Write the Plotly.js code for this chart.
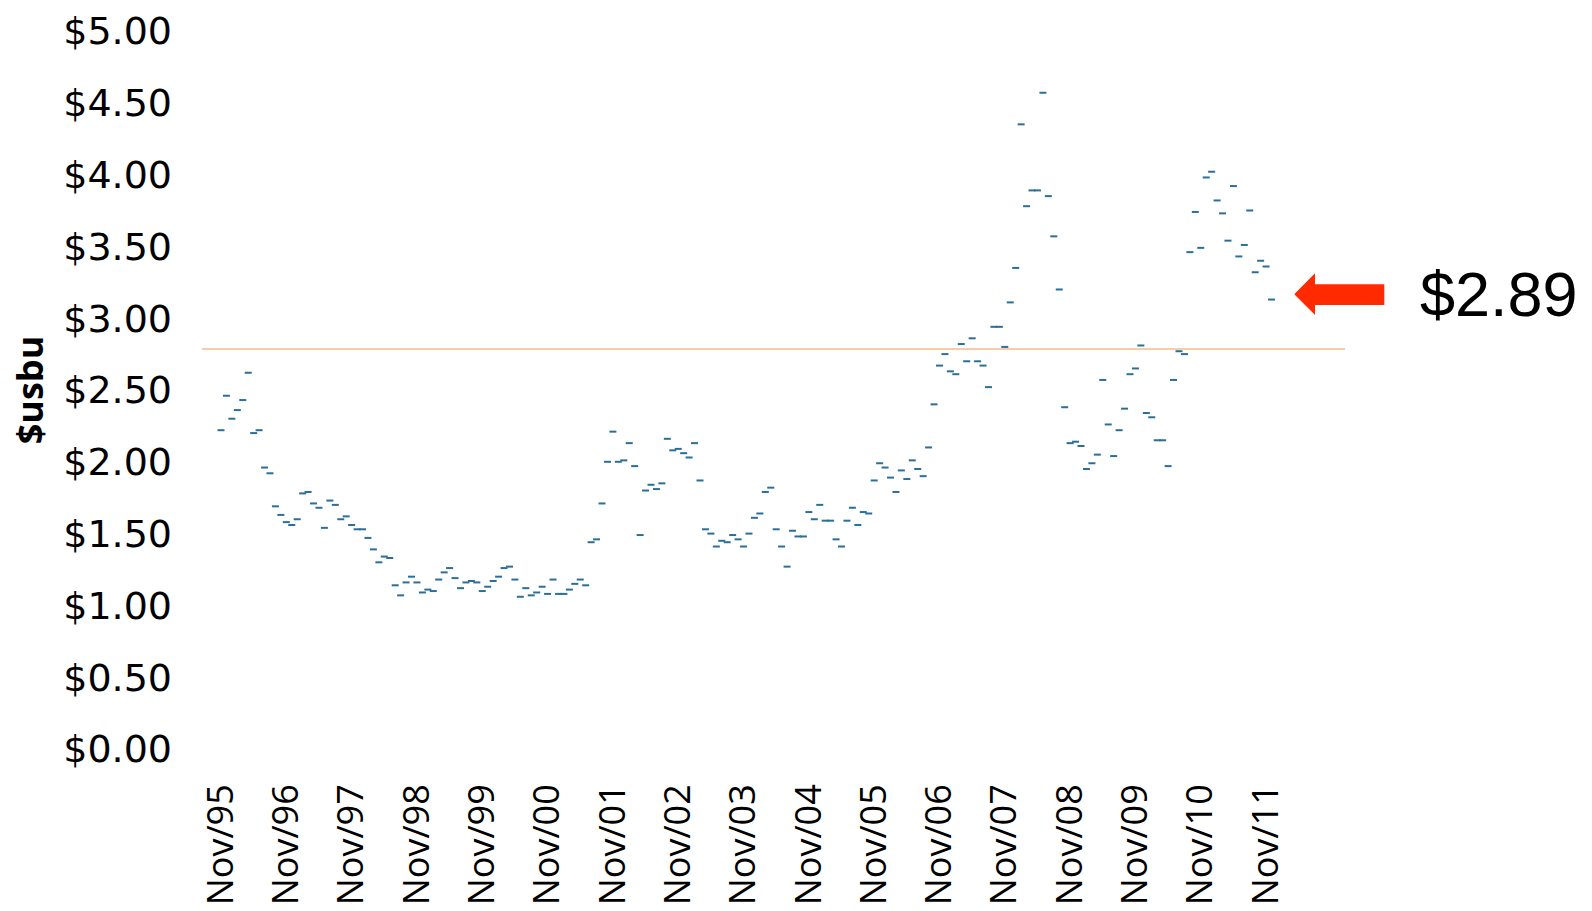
<!DOCTYPE html>
<html>
<head>
<meta charset="utf-8">
<script src="https://cdn.plot.ly/plotly-3.0.1.min.js"></script>
<style>
  html, body { margin: 0; padding: 0; background: #ffffff; }
  #chart { width: 1592px; height: 911px; }
</style>
</head>
<body>
<div id="chart"></div>
<script>
// Monthly prices ($/bu), starting Nov/95
const startYear = 1995;
const startMonth = 11; // November
const prices = [
  2.22, 2.46, 2.30, 2.36, 2.43, 2.62, 2.20, 2.22, 1.96, 1.92, 1.69, 1.63,
  1.58, 1.56, 1.60, 1.78, 1.79, 1.71, 1.68, 1.54, 1.73, 1.70, 1.60, 1.62,
  1.56, 1.53, 1.53, 1.47, 1.39, 1.30, 1.34, 1.33, 1.14, 1.07, 1.16, 1.20,
  1.16, 1.09, 1.11, 1.10, 1.18, 1.23, 1.26, 1.19, 1.12, 1.16, 1.17, 1.16,
  1.10, 1.13, 1.17, 1.20, 1.26, 1.27, 1.18, 1.06, 1.12, 1.07, 1.09, 1.13,
  1.08, 1.18, 1.08, 1.08, 1.11, 1.15, 1.18, 1.14, 1.44, 1.46, 1.71, 2.00,
  2.21, 2.00, 2.01, 2.13, 1.97, 1.49, 1.80, 1.84, 1.81, 1.85, 2.16, 2.08,
  2.09, 2.06, 2.03, 2.13, 1.87, 1.53, 1.50, 1.41, 1.45, 1.44, 1.49, 1.46,
  1.41, 1.50, 1.61, 1.64, 1.79, 1.82, 1.53, 1.41, 1.27, 1.52, 1.48, 1.48,
  1.65, 1.60, 1.70, 1.59, 1.59, 1.46, 1.41, 1.59, 1.68, 1.56, 1.65, 1.64,
  1.87, 1.99, 1.96, 1.89, 1.79, 1.94, 1.88, 2.01, 1.95, 1.90, 2.10, 2.40,
  2.67, 2.75, 2.63, 2.61, 2.82, 2.70, 2.86, 2.70, 2.67, 2.52, 2.94, 2.94,
  2.80, 3.11, 3.35, 4.35, 3.78, 3.89, 3.89, 4.57, 3.85, 3.57, 3.20, 2.38,
  2.13, 2.14, 2.11, 1.95, 1.99, 2.05, 2.57, 2.26, 2.04, 2.22, 2.37, 2.61,
  2.65, 2.81, 2.34, 2.31, 2.15, 2.15, 1.97, 2.57, 2.77, 2.75, 3.46, 3.74,
  3.49, 3.98, 4.02, 3.82, 3.73, 3.54, 3.92, 3.43, 3.51, 3.75, 3.32, 3.40,
  3.36, 3.13
];
const tickLabels = ['Nov/95','Nov/96','Nov/97','Nov/98','Nov/99','Nov/00','Nov/01','Nov/02',
                    'Nov/03','Nov/04','Nov/05','Nov/06','Nov/07','Nov/08','Nov/09','Nov/10','Nov/11'];
const refLevel = 2.785;
const calloutText = '$2.89';
const yTitle = '$usbu';

// month index as x (0 = Nov/95)
const monthIndex = prices.map((_, i) => i);
const tickVals = tickLabels.map((_, i) => i * 12);

const trace = {
  x: monthIndex,
  y: prices,
  type: 'scatter',
  mode: 'markers',
  marker: {
    symbol: 'line-ew',
    size: 5,
    color: '#2b6f98',
    line: { color: '#2b6f98', width: 2 }
  },
  hoverinfo: 'x+y',
  showlegend: false
};

const layout = {
  width: 1592,
  height: 911,
  margin: { l: 202, r: 247, t: 31, b: 162, pad: 0 },
  paper_bgcolor: '#ffffff',
  plot_bgcolor: '#ffffff',
  font: { family: 'Open Sans, sans-serif', color: '#000000' },
  showlegend: false,
  xaxis: {
    range: [-3.49, 206.5],
    tickmode: 'array',
    tickvals: tickVals,
    ticktext: tickLabels,
    tickangle: -90,
    tickfont: { family: 'Open Sans, sans-serif', size: 36, color: '#000000' },
    ticks: '',
    ticklabelstandoff: 27,
    showgrid: false,
    zeroline: false,
    showline: false,
    fixedrange: true
  },
  yaxis: {
    range: [0, 5],
    tick0: 0,
    dtick: 0.5,
    tickprefix: '$',
    tickformat: '.2f',
    tickfont: { family: 'DejaVu Sans, sans-serif', size: 38, color: '#000000' },
    ticks: '',
    ticklabelstandoff: 29,
    showgrid: false,
    zeroline: false,
    showline: false,
    fixedrange: true,
    title: {
      text: '<b>' + yTitle + '</b>',
      font: { family: 'Open Sans, sans-serif', size: 36, color: '#000000' },
      standoff: 8
    }
  },
  shapes: [
    {
      type: 'line', layer: 'below',
      xref: 'paper', x0: 0, x1: 1,
      yref: 'y', y0: refLevel, y1: refLevel,
      line: { color: '#F8CBAD', width: 2 }
    },
    {
      type: 'path',
      xref: 'paper', yref: 'paper',
      path: 'M 0.9556 0.6333 L 0.9738 0.6625 L 0.9738 0.6472 L 1.0344 0.6472 L 1.0344 0.6184 L 0.9738 0.6184 L 0.9738 0.6045 Z',
      fillcolor: '#ff2a00',
      line: { color: '#ff2a00', width: 0 }
    }
  ],
  annotations: [
    {
      xref: 'paper', yref: 'paper',
      x: 1.0636, y: 0.634,
      xanchor: 'left', yanchor: 'middle',
      text: calloutText,
      showarrow: false,
      font: { family: 'Liberation Sans, Arial, sans-serif', size: 63, color: '#000000' }
    }
  ]
};

Plotly.newPlot('chart', [trace], layout, { displayModeBar: false, staticPlot: true });
</script>
</body>
</html>
